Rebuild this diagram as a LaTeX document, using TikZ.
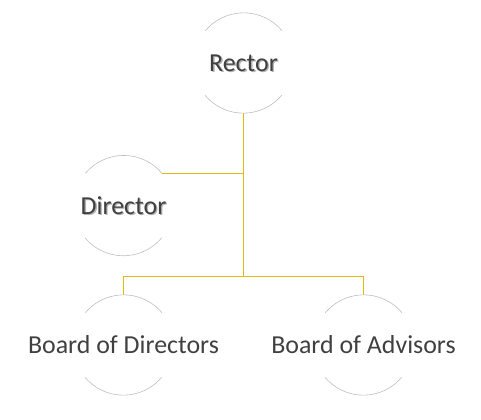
\documentclass[tikz,border=0pt]{standalone}
\usepackage{fontspec}
\setmainfont{Carlito}
\usetikzlibrary{calc}
\definecolor{ringgray}{RGB}{190,190,190}
\definecolor{linkgold}{RGB}{226,184,20}
\definecolor{textgray}{RGB}{64,64,64}
\tikzset{
  role/.style={circle, minimum size=100bp, inner sep=0pt},
  rolelabel/.style={text=textgray, font=\fontsize{26}{30}\selectfont, inner sep=0pt},
  shadowlabel/.style={rolelabel, text=black!30, xshift=1.3bp, yshift=-1.3bp},
  ring/.style={draw=ringgray, line width=0.6bp},
  link/.style={draw=linkgold, line width=1.3bp},
}

\begin{document}
\begin{tikzpicture}[x=1bp, y=1bp]
			\useasboundingbox (0, 0) rectangle (481, 419);
			\node[role, label={[shadowlabel]center:Rector}, label={[rolelabel]center:Rector}] (rector) at (243.5, 356) {};
			\node[role, label={[shadowlabel]center:Director}, label={[rolelabel]center:Director}] (director) at (123.5, 213.4) {};
			\node[role, label={[rolelabel]center:Board of Directors}] (bod) at (123.5, 74) {};
			\node[role, label={[rolelabel]center:Board of Advisors}] (boa) at (363.5, 74) {};
			\foreach \n in {rector, director, bod, boa} {
				\draw[ring] (\n.40) arc[start angle=40, end angle=140, radius=50];
				\draw[ring] (\n.220) arc[start angle=220, end angle=320, radius=50];
			}
			\coordinate (split) at (243.5, 142.5);
			\draw[link] (rector.south) -- (split);
			\draw[link] (director.40) -- (director.40 -| rector.south);
			\draw[link] (bod.north) |- (split) -| (boa.north);
		\end{tikzpicture}
\end{document}
